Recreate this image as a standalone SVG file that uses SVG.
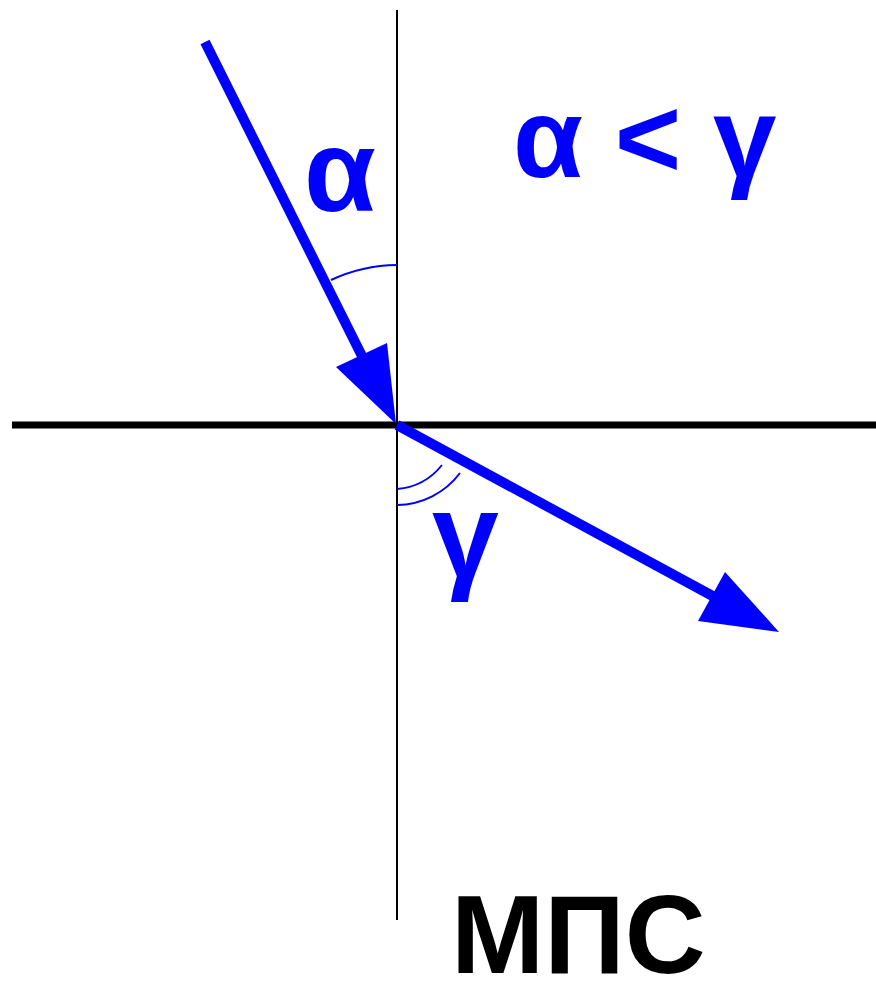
<svg xmlns="http://www.w3.org/2000/svg" width="876" height="982" viewBox="0 0 876 982">
<style>
.ray{stroke:#0000ff;stroke-width:10;fill:none}
.head{fill:#0000ff}
.arc{stroke:#0000ff;stroke-width:2;fill:none}
.lbl{font-family:"Liberation Sans",Arial,sans-serif;font-weight:bold;fill:#0000ff}
</style>
<rect width="876" height="982" fill="#fff"/>
<g id="axes">
<line x1="397" y1="10" x2="397" y2="920" stroke="#000" stroke-width="2"/>
<line x1="12" y1="425" x2="876" y2="425" stroke="#000" stroke-width="7"/>
</g>
<g id="connectors">
<g id="incident">
<line class="ray" x1="205" y1="42" x2="370" y2="372"/>
<polygon class="head" points="396,424 336,367 387,343"/>
</g>
<g id="refracted">
<line class="ray" x1="397" y1="425" x2="720" y2="600"/>
<polygon class="head" points="779,632 725,572 698,621"/>
</g>
</g>
<g id="angles">
<path class="arc" d="M397,265 A160,160 0 0 0 331,280"/>
<path class="arc" d="M397,489 A64,64 0 0 0 442,465"/>
<path class="arc" d="M397,505 A80,80 0 0 0 460,473"/>
</g>
<g id="labels">
<text class="lbl" x="304" y="211" font-size="117">α</text>
<text class="lbl" x="432" y="577" font-size="120">γ</text>
<text class="lbl" x="513" y="177" font-size="114">α &lt; γ</text>
<text x="451" y="973" font-family="Liberation Sans,Arial,sans-serif" font-weight="bold" font-size="112" fill="#000">МПС</text>
</g>
</svg>
